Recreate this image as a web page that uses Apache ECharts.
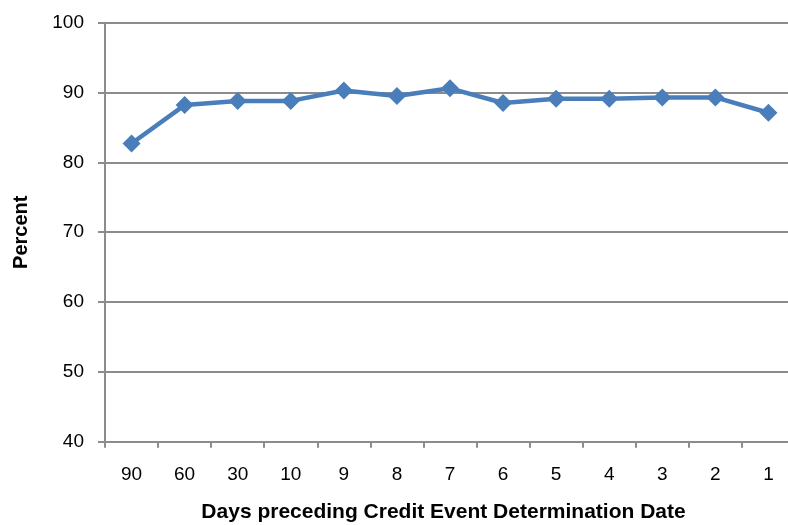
<!DOCTYPE html>
<html><head><meta charset="utf-8">
<script src="https://cdn.jsdelivr.net/npm/echarts@6/dist/echarts.min.js"></script>
<style>html,body{margin:0;padding:0;background:#fff}#c{width:788px;height:525px}</style>
</head><body><div id="c"></div>
<script>
const categories = ['90','60','30','10','9','8','7','6','5','4','3','2','1'];
const values = [82.7, 88.2, 88.8, 88.8, 90.3, 89.5, 90.6, 88.5, 89.1, 89.1, 89.3, 89.3, 87.1];
const yTicks = [40, 50, 60, 70, 80, 90, 100];
const chart = echarts.init(document.getElementById('c'), null, {renderer: 'canvas'});
chart.setOption({
  animation: false,
  backgroundColor: '#fff',
  grid: {left: 105, top: 22.7, width: 690, height: 419, outerBoundsMode: 'none', containLabel: false},
  xAxis: {
    type: 'category', data: categories, boundaryGap: true,
    name: 'Days preceding Credit Event Determination Date',
    nameLocation: 'middle', nameGap: 60,
    nameTextStyle: {fontFamily: 'Liberation Sans', fontWeight: 'bold', fontSize: 21, color: '#000', padding: [0, 13, 0, 0]},
    axisLine: {lineStyle: {color: '#8c8c8c', width: 2}},
    axisTick: {show: true, length: 6, lineStyle: {color: '#8c8c8c', width: 2}},
    axisLabel: {fontFamily: 'Liberation Sans', fontSize: 19, color: '#000', margin: 24}
  },
  yAxis: {
    type: 'value', min: yTicks[0], max: yTicks[yTicks.length-1], interval: 10,
    name: 'Percent', nameLocation: 'middle', nameGap: 74, nameRotate: 90,
    nameTextStyle: {fontFamily: 'Liberation Sans', fontWeight: 'bold', fontSize: 20, color: '#000'},
    axisLine: {show: true, lineStyle: {color: '#8c8c8c', width: 2}},
    axisTick: {show: true, length: 7, lineStyle: {color: '#8c8c8c', width: 2}},
    axisLabel: {fontFamily: 'Liberation Sans', fontSize: 19, color: '#000', margin: 21},
    splitLine: {show: true, lineStyle: {color: '#8c8c8c', width: 2}}
  },
  series: [{
    type: 'line', data: values,
    symbol: 'diamond', symbolSize: 18,
    lineStyle: {color: '#4a7ebb', width: 4.5},
    itemStyle: {color: '#4a7ebb'}
  }]
});
</script></body></html>
